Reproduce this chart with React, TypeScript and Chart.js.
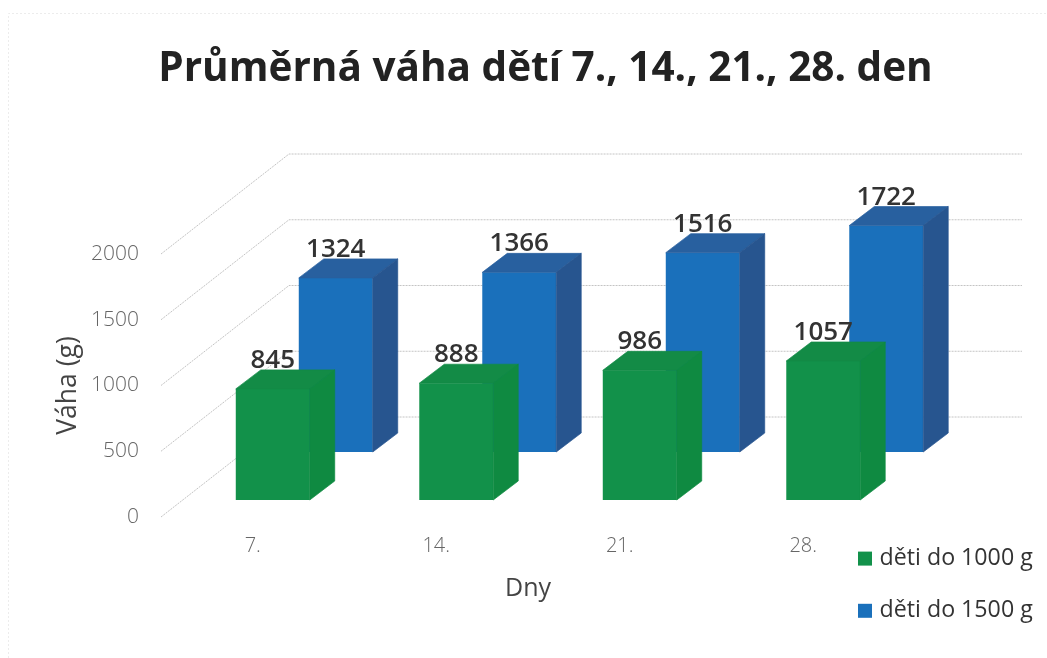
import React, { useEffect, useRef } from "react";
import { Chart, registerables } from "chart.js";

Chart.register(...registerables);

const days = ["7.", "14.", "21.", "28."];
const under1000 = [845, 888, 986, 1057];
const under1500 = [1324, 1366, 1516, 1722];
const seriesNames = ["děti do 1000 g", "děti do 1500 g"];
const yTicks = [0, 500, 1000, 1500, 2000];

const FONT = '"Open Sans", "Noto Sans", sans-serif';
const DEPTH_X = 25;
const DEPTH_Y = -19;
const WALL_X = 128;
const WALL_Y = -100;
const WALL_RIGHT = 1022;
const FACE: any = [
  { dx: 20, dy: -17, top: "#138b46", side: "#0f8a41" },
  { dx: 83, dy: -65, top: "#28609f", side: "#27558f" },
];

const scene3d: any = {
  id: "scene3d",
  afterLayout(chart: any) {
    const l = chart.legend;
    if (l) {
      l.left = 833;
      l.top = 518;
      l.right = 1047;
      l.bottom = 658;
    }
    const t = chart.titleBlock;
    if (t) {
      t.left = 44;
      t.right = 1047;
    }
  },
  beforeDraw(chart: any) {
    const { ctx, width, height } = chart;
    ctx.save();
    ctx.fillStyle = "#ffffff";
    ctx.fillRect(0, 0, width, height);
    ctx.strokeStyle = "#ececec";
    ctx.lineWidth = 1;
    ctx.setLineDash([2, 2]);
    ctx.beginPath();
    ctx.moveTo(8.5, height);
    ctx.lineTo(8.5, 13.5);
    ctx.lineTo(width, 13.5);
    ctx.stroke();
    ctx.restore();
  },
  beforeDatasetsDraw(chart: any) {
    const { ctx, scales } = chart;
    const y = scales.y;
    ctx.save();
    ctx.strokeStyle = "#c4c4c4";
    ctx.lineWidth = 1;
    ctx.setLineDash([2, 1]);
    y.ticks.forEach((t: any) => {
      const py = y.getPixelForValue(t.value);
      ctx.beginPath();
      ctx.moveTo(chart.chartArea.left, py);
      ctx.lineTo(chart.chartArea.left + WALL_X, py + WALL_Y);
      ctx.lineTo(WALL_RIGHT, py + WALL_Y);
      ctx.stroke();
    });
    ctx.restore();
  },
  beforeDatasetDraw(chart: any, args: any) {
    const f = FACE[args.index];
    chart.ctx.save();
    chart.ctx.translate(f.dx, f.dy);
  },
  afterDatasetDraw(chart: any, args: any) {
    const { ctx } = chart;
    const f = FACE[args.index];
    const data = chart.data.datasets[args.index].data;
    args.meta.data.forEach((bar: any, i: number) => {
      const { x, y, base, width } = bar.getProps(["x", "y", "base", "width"], true);
      const l = x - width / 2;
      const r = x + width / 2;
      ctx.lineWidth = 0.7;
      ctx.fillStyle = f.top;
      ctx.strokeStyle = f.top;
      ctx.beginPath();
      ctx.moveTo(l, y);
      ctx.lineTo(l + DEPTH_X, y + DEPTH_Y);
      ctx.lineTo(r + DEPTH_X, y + DEPTH_Y);
      ctx.lineTo(r, y);
      ctx.closePath();
      ctx.fill();
      ctx.stroke();
      ctx.fillStyle = f.side;
      ctx.strokeStyle = f.side;
      ctx.beginPath();
      ctx.moveTo(r, y);
      ctx.lineTo(r + DEPTH_X, y + DEPTH_Y);
      ctx.lineTo(r + DEPTH_X, base + DEPTH_Y);
      ctx.lineTo(r, base);
      ctx.closePath();
      ctx.fill();
      ctx.stroke();
      ctx.fillStyle = "#333333";
      ctx.font = `600 26px ${FONT}`;
      ctx.textAlign = "center";
      ctx.textBaseline = "alphabetic";
      ctx.fillText(String(data[i]), x, y + DEPTH_Y - 2);
    });
    ctx.restore();
  },
};

export default function App() {
  const ref = useRef<HTMLCanvasElement>(null);
  useEffect(() => {
    document.body.style.margin = "0";
    const chart = new Chart(ref.current as HTMLCanvasElement, {
      type: "bar",
      data: {
        labels: days,
        datasets: [
          { label: seriesNames[0], data: under1000, backgroundColor: "#12914a", borderWidth: 0, clip: false } as any,
          { label: seriesNames[1], data: under1500, backgroundColor: "#1a70bb", borderWidth: 0, clip: false } as any,
        ],
      },
      plugins: [scene3d],
      options: {
        animation: false,
        responsive: false,
        events: [],
        layout: { padding: { left: 44, right: 152, top: 0, bottom: 0 } },
        datasets: { bar: { grouped: false, barPercentage: 0.403, categoryPercentage: 1 } },
        plugins: {
          tooltip: { enabled: false },
          title: {
            display: true,
            text: "Průměrná váha dětí 7., 14., 21., 28. den",
            color: "#222222",
            font: { family: FONT, size: 40.5, weight: "bold" },
            padding: { top: 45, bottom: 160.4 },
          },
          legend: {
            position: "chartArea" as any,
            align: "start",
            labels: {
              usePointStyle: true,
              pointStyle: "rect",
              boxWidth: 6,
              boxHeight: 14,
              padding: 29,
              color: "#333333",
              font: { family: FONT, size: 23.2 },
            },
          },
        },
        scales: {
          x: {
            grid: { display: false, drawTicks: false },
            border: { display: false },
            afterFit: (s: any) => { s.height = 141; },
            ticks: { color: "#666666", padding: 17, maxRotation: 0, font: { family: FONT, size: 20, weight: "300" } },
            title: {
              display: true,
              text: "Dny",
              color: "#444444",
              font: { family: FONT, size: 25 },
              padding: { top: 0, bottom: 54 },
            },
          },
          y: {
            min: 0,
            max: 2000,
            grid: { display: false, drawTicks: false },
            border: { display: false },
            afterFit: (s: any) => { s.width = 117; },
            afterBuildTicks: (s: any) => { s.ticks = yTicks.map((value) => ({ value })); },
            ticks: {
              color: "#666666",
              padding: 22,
              callback: (v: any) => String(v),
              font: { family: FONT, size: 21, weight: "300" },
            },
            title: {
              display: true,
              text: "Váha (g)",
              color: "#444444",
              font: { family: FONT, size: 26.5 },
              padding: { top: 9, bottom: 0 },
            },
          },
        },
      },
    });
    return () => chart.destroy();
  }, []);
  return <canvas ref={ref} width={1047} height={658} style={{ display: "block" }} />;
}
